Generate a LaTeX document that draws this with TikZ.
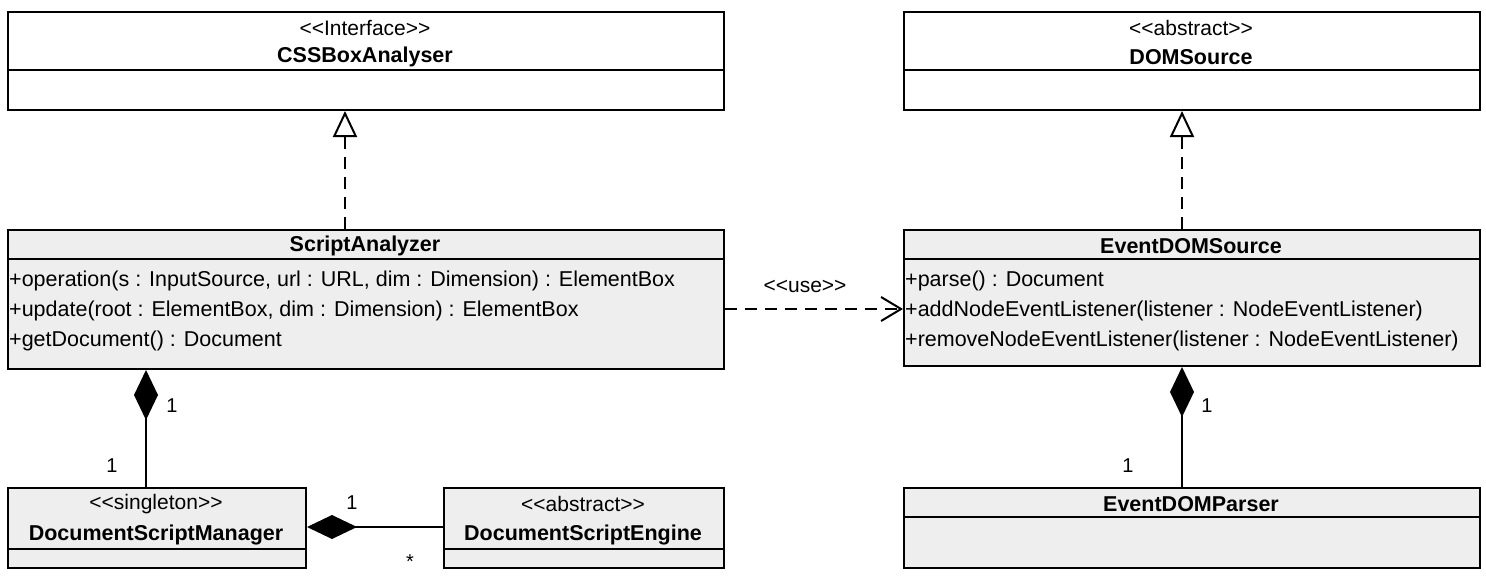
\documentclass[tikz,border=0pt]{standalone}
\usepackage{fontspec}
\setmainfont{Liberation Sans}
\usetikzlibrary{arrows.meta}
\definecolor{boxgray}{HTML}{EEEEEE}
\begin{document}
\begin{tikzpicture}[x=1pt,y=-1pt,
  cls/.style={draw=black, line width=2pt, anchor=north west, inner sep=0pt},
  white cls/.style={cls, fill=white},
  gray cls/.style={cls, fill=boxgray},
  stereo/.style={font=\fontsize{21}{23}\selectfont, inner sep=0pt},
  cname/.style={font=\fontsize{21.5}{24}\selectfont\bfseries, inner sep=0pt},
  member/.style={font=\fontsize{21.5}{24}\selectfont, inner sep=0pt, anchor=west},
  mult/.style={font=\fontsize{20}{22}\selectfont, inner sep=0pt},
  divider/.style={line width=2pt},
  realize/.style={line width=2pt, dash pattern=on 12pt off 8pt, -{Triangle[open, length=26pt, width=24pt]}},
  usedep/.style={line width=2pt, dash pattern=on 12pt off 8pt, -{Straight Barb[length=20pt, width=24pt]}},
  compose/.style={line width=2pt, {Diamond[length=50pt, width=24pt, fill=black]}-},
]
\useasboundingbox (0,0) rectangle (1486,578);

% CSSBoxAnalyser
\node[white cls, minimum width=716pt, minimum height=98pt] (css) at (7,11) {};
\draw[divider] (7,70) -- (723,70);
\node[stereo] (cssS) at (365,28) {<{}<Interface>{}>};
\node[cname] (cssN) at (365,57) {CSSBoxAnalyser};

% DOMSource
\node[white cls, minimum width=576pt, minimum height=98pt] (dom) at (903,11) {};
\draw[divider] (903,70) -- (1479,70);
\node[stereo] (domS) at (1191,28) {<{}<abstract>{}>};
\node[cname] (domN) at (1191,57) {DOMSource};

% ScriptAnalyzer
\node[gray cls, minimum width=716pt, minimum height=139pt] (sa) at (7,229) {};
\draw[divider] (7,259) -- (723,259);
\node[cname] (saN) at (365,246) {ScriptAnalyzer};
\node[member] (sa1) at (9,281) {+operation(s : InputSource, url : URL, dim : Dimension) : ElementBox};
\node[member] (sa2) at (9,311) {+update(root : ElementBox, dim : Dimension) : ElementBox};
\node[member] (sa3) at (9,341) {+getDocument() : Document};

% EventDOMSource
\node[gray cls, minimum width=576pt, minimum height=136pt] (eds) at (903,229) {};
\draw[divider] (903,259) -- (1479,259);
\node[cname] (edsN) at (1191,246) {EventDOMSource};
\node[member] (eds1) at (905,281) {+parse() : Document};
\node[member] (eds2) at (905,311) {+addNodeEventListener(listener : NodeEventListener)};
\node[member] (eds3) at (905,341) {+removeNodeEventListener(listener : NodeEventListener)};

% DocumentScriptManager
\node[gray cls, minimum width=298pt, minimum height=80pt] (dsm) at (7,487) {};
\draw[divider] (7,549) -- (305,549);
\node[stereo] (dsmS) at (156,504) {<{}<singleton>{}>};
\node[cname] (dsmN) at (156,535) {DocumentScriptManager};

% DocumentScriptEngine
\node[gray cls, minimum width=280pt, minimum height=80pt] (dse) at (443,487) {};
\draw[divider] (443,549) -- (723,549);
\node[stereo] (dseS) at (583,504) {<{}<abstract>{}>};
\node[cname] (dseN) at (583,535) {DocumentScriptEngine};

% EventDOMParser
\node[gray cls, minimum width=576pt, minimum height=80pt] (edp) at (903,487) {};
\draw[divider] (903,517) -- (1479,517);
\node[cname] (edpN) at (1191,504) {EventDOMParser};

% Realizations
\draw[realize] (sa.north -| 345,0) -- (css.south -| 345,0);
\draw[realize] (eds.north -| 1182,0) -- (dom.south -| 1182,0);

% Dependency
\draw[usedep] (sa.east |- 0,309) -- (eds.west |- 0,309);
\node[stereo] (useL) at (805,286) {<{}<use>{}>};

% Compositions
\draw[compose] (sa.south -| 146,0) -- (dsm.north -| 146,0);
\node[mult] (m1) at (172,406) {1};
\node[mult] (m2) at (112,466) {1};
\draw[compose] (eds.south -| 1182,0) -- (edp.north -| 1182,0);
\node[mult] (m3) at (1207,406) {1};
\node[mult] (m4) at (1128,466) {1};
\draw[compose] (dsm.east |- 0,527) -- (dse.west |- 0,527);
\node[mult] (m5) at (352,503) {1};
\node[mult] (m6) at (410,562) {*};
\end{tikzpicture}
\end{document}
